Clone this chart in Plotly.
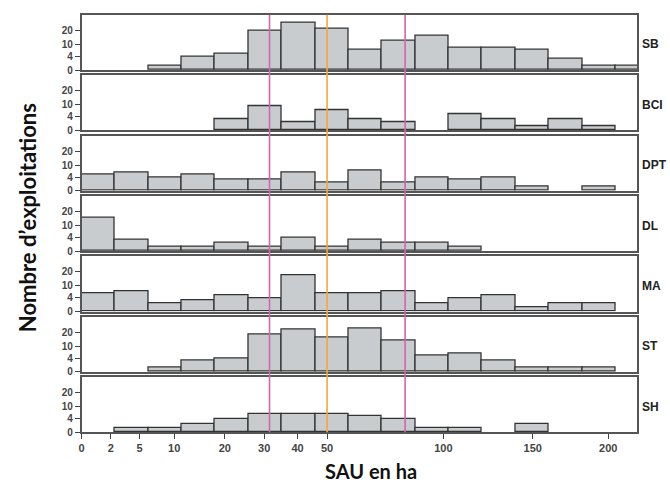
import numpy as np
import plotly.graph_objects as go

# ---------------- data ----------------
regions = ["SB", "BCI", "DPT", "DL", "MA", "ST", "SH"]
counts_SB  = [0, 0, 1, 4, 5, 20, 27, 21, 7, 12, 16, 8, 8, 7, 3, 1, 1]
counts_BCI = [0, 0, 0, 0, 3, 9, 2, 7, 3, 2, 0, 5, 3, 1, 3, 1, 0]
counts_DPT = [5, 6, 4, 5, 3, 3, 6, 2, 7, 2, 4, 3, 4, 1, 0, 1, 0]
counts_DL  = [15, 3, 1, 1, 2, 1, 4, 1, 3, 2, 2, 1, 0, 0, 0, 0, 0]
counts_MA  = [6, 7, 2, 3, 5, 4, 17, 6, 6, 7, 2, 4, 5, 1, 2, 2, 0]
counts_ST  = [0, 0, 1, 3, 4, 18, 22, 16, 23, 14, 5, 6, 3, 1, 1, 1, 0]
counts_SH  = [0, 1, 1, 2, 4, 6, 6, 6, 5, 4, 1, 1, 0, 2, 0, 0, 0]
all_counts = [counts_SB, counts_BCI, counts_DPT, counts_DL, counts_MA, counts_ST, counts_SH]

x_tick_values = [0, 2, 5, 10, 20, 30, 40, 50, 100, 150, 200]   # SAU (ha)
y_tick_values = [0, 4, 10, 20]                                 # number of farms
quartile_lines = [31.5, 50, 81.7]                              # Q1, median, Q3 (ha)
quartile_colors = ["#d066ad", "#f5a63e", "#d066ad"]

BIN_W = 0.835          # bin width in the transformed (sqrt(x+1)-1) scale
X_MAX = 13.9
Y_MAX = 5.0


def tr(v):
    return np.sqrt(np.asarray(v, dtype=float) + 1.0) - 1.0


# ---------------- layout geometry ----------------
W, H = 670, 490
x_dom = [79 / W, 637 / W]
panel_top0, panel_h, panel_step = 15.0, 56.0, 61.1

fig = go.Figure()
n = len(regions)
layout = {}
for i, (reg, cnt) in enumerate(zip(regions, all_counts)):
    k = "" if i == 0 else str(i + 1)
    centers = (np.arange(len(cnt)) + 0.5) * BIN_W
    yv = [float(tr(c)) if c > 0 else None for c in cnt]
    fig.add_trace(go.Bar(
        x=centers, y=yv, width=BIN_W,
        marker=dict(color="#c9ccce", line=dict(color="#333333", width=1.3)),
        xaxis="x" + k, yaxis="y" + k, showlegend=False, name=reg,
    ))
    top = panel_top0 + i * panel_step
    bot = top + panel_h
    last = (i == n - 1)
    layout["xaxis" + k] = dict(
        domain=x_dom, range=[0, X_MAX], anchor="y" + k,
        showline=True, mirror=True, linecolor="#555555", linewidth=1.5,
        showgrid=False, zeroline=False,
        tickmode="array", tickvals=list(tr(x_tick_values)),
        ticktext=[str(v) for v in x_tick_values],
        ticks="outside" if last else "", ticklen=5, tickcolor="#444444",
        showticklabels=last,
        tickfont=dict(family="Liberation Sans", size=11, color="#444444", weight="bold"),
        **({} if i == 0 else {"matches": "x"}),
    )
    layout["yaxis" + k] = dict(
        domain=[1 - bot / H, 1 - top / H], range=[0, Y_MAX], anchor="x" + k,
        showline=True, mirror=True, linecolor="#555555", linewidth=1.5,
        showgrid=False, zeroline=False,
        tickmode="array", tickvals=list(tr(y_tick_values)),
        ticktext=[str(v) for v in y_tick_values],
        ticks="outside", ticklen=5, tickcolor="#444444",
        tickfont=dict(family="Liberation Sans", size=10, color="#444444", weight="bold"),
    )
    fig.add_annotation(
        text=reg, xref="paper", yref="y" + k + " domain",
        x=640 / W, y=0.5, xanchor="left", yanchor="middle", yshift=-2,
        showarrow=False,
        font=dict(family="Liberation Sans", size=12, color="#222222", weight="bold"),
    )

sh_top = panel_top0
sh_bot = panel_top0 + (n - 1) * panel_step + panel_h
for q, col in zip(quartile_lines, quartile_colors):
    fig.add_shape(type="line", xref="x", yref="paper",
                  x0=float(tr(q)), x1=float(tr(q)),
                  y0=1 - sh_bot / H, y1=1 - sh_top / H,
                  line=dict(color=col, width=1.6), layer="above")

fig.add_annotation(
    text="Nombre d\u2019exploitations", xref="paper", yref="paper",
    x=24 / W, y=1 - 220 / H, textangle=-90, showarrow=False,
    xanchor="center", yanchor="middle",
    font=dict(family="Lato", size=22, color="#111111", weight="bold"),
)
fig.add_annotation(
    text="SAU en ha", xref="paper", yref="paper",
    x=370 / W, y=1 - 477 / H, showarrow=False,
    xanchor="center", yanchor="middle",
    font=dict(family="Lato", size=20, color="#111111", weight="bold"),
)

fig.update_layout(
    width=W, height=H, margin=dict(l=0, r=0, t=0, b=0),
    paper_bgcolor="white", plot_bgcolor="white",
    bargap=0, **layout,
)

fig.write_html("out.html", config={"displayModeBar": False},
               post_script="document.body.style.margin='0';document.body.style.overflow='hidden';")
